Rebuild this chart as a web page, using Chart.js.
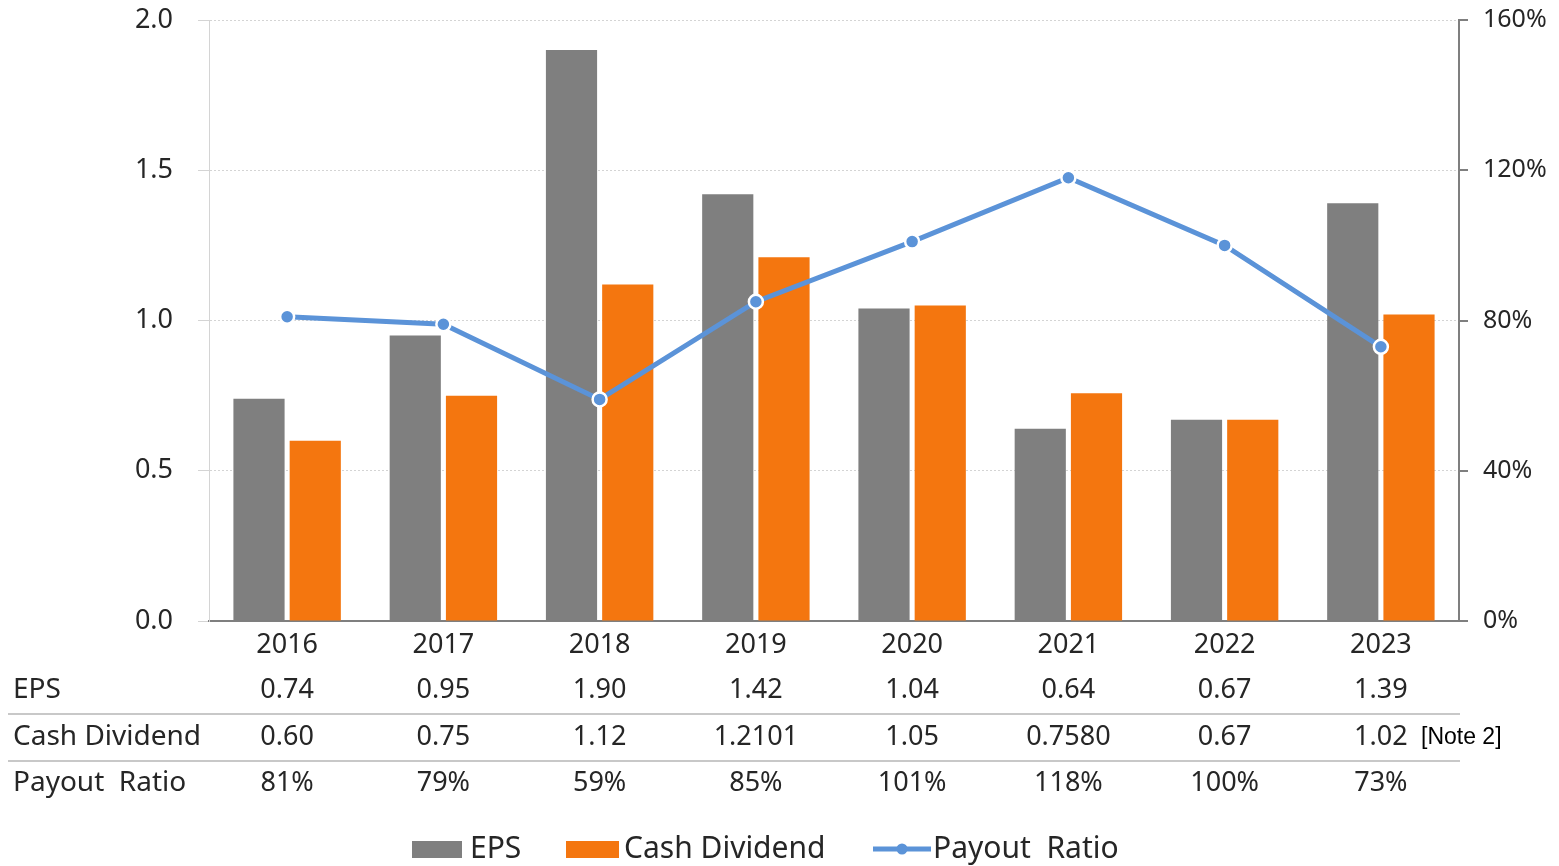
<!DOCTYPE html>
<html>
<head>
<meta charset="utf-8">
<title>EPS and Cash Dividend</title>
<script src="https://cdn.jsdelivr.net/npm/chart.js@4"></script>
<style>
    html, body { margin: 0; padding: 0; background: #fff; }
    #chart { display: block; }
</style>
</head>
<body>
<canvas id="chart" width="1559" height="866"></canvas>
<script>
// Yearly figures
const years = ['2016', '2017', '2018', '2019', '2020', '2021', '2022', '2023'];
const eps = [0.74, 0.95, 1.90, 1.42, 1.04, 0.64, 0.67, 1.39];
const cashDividend = [0.60, 0.75, 1.12, 1.2101, 1.05, 0.7580, 0.67, 1.02];
const payoutRatio = [81, 79, 59, 85, 101, 118, 100, 73];

// Table text as published
const epsText = ['0.74', '0.95', '1.90', '1.42', '1.04', '0.64', '0.67', '1.39'];
const dividendText = ['0.60', '0.75', '1.12', '1.2101', '1.05', '0.7580', '0.67', '1.02'];
const payoutText = payoutRatio.map(v => v + '%');

const FONT = '"Noto Sans", "DejaVu Sans", sans-serif';
const TEXT = '#262626';
const GRAY = '#7f7f7f';
const ORANGE = '#f4760f';
const BLUE = '#5b93d8';

// Data table + legend under the plot
const tablePlugin = {
    id: 'dataTable',
    afterDraw(chart) {
        const ctx = chart.ctx;
        const x = chart.scales.x;
        const rows = [
            { label: 'EPS', values: epsText, y: 690 },
            { label: 'Cash Dividend', values: dividendText, y: 737 },
            { label: 'Payout  Ratio', values: payoutText, y: 783 }
        ];
        ctx.save();

        // row separators
        ctx.strokeStyle = '#c8c8c8';
        ctx.lineWidth = 2;
        [714, 761].forEach(y => {
            ctx.beginPath();
            ctx.moveTo(8, y);
            ctx.lineTo(1460, y);
            ctx.stroke();
        });

        ctx.fillStyle = TEXT;
        ctx.textBaseline = 'middle';
        rows.forEach(r => {
            ctx.font = '28px ' + FONT;
            ctx.textAlign = 'left';
            ctx.fillText(r.label, 13, r.y);
            ctx.font = '27px ' + FONT;
            ctx.textAlign = 'center';
            r.values.forEach((v, i) => ctx.fillText(v, x.getPixelForValue(i), r.y));
        });

        ctx.font = '23px "Liberation Sans", Arial, sans-serif';
        ctx.fillStyle = '#000';
        ctx.textAlign = 'left';
        ctx.fillText('[Note 2]', 1421, 738);

        // legend
        const ly = 849;
        ctx.font = '30px ' + FONT;
        ctx.fillStyle = GRAY;
        ctx.fillRect(412, ly - 8, 50, 17);
        ctx.fillStyle = ORANGE;
        ctx.fillRect(566, ly - 8, 53, 17);
        ctx.strokeStyle = BLUE;
        ctx.lineWidth = 5;
        ctx.beginPath();
        ctx.moveTo(873, ly);
        ctx.lineTo(931, ly);
        ctx.stroke();
        ctx.fillStyle = BLUE;
        ctx.beginPath();
        ctx.arc(902, ly, 5.5, 0, Math.PI * 2);
        ctx.fill();

        ctx.fillStyle = TEXT;
        ctx.fillText('EPS', 470, ly);
        ctx.fillText('Cash Dividend', 624, ly);
        ctx.fillText('Payout  Ratio', 933, ly);
        ctx.restore();
    }
};

// fixed axis box, no extra room for the end labels
function fixWidth(w) {
    return scale => {
        scale.width = w;
        scale.paddingTop = 0;
        scale.paddingBottom = 0;
    };
}

new Chart(document.getElementById('chart'), {
    type: 'bar',
    data: {
        labels: years,
        datasets: [
            {
                type: 'line',
                label: 'Payout  Ratio',
                data: payoutRatio,
                yAxisID: 'y2',
                borderColor: BLUE,
                borderWidth: 5,
                pointRadius: 7,
                pointBackgroundColor: BLUE,
                pointBorderColor: '#fff',
                pointBorderWidth: 2.5,
                tension: 0,
                order: 0
            },
            {
                label: 'EPS',
                data: eps,
                backgroundColor: GRAY,
                yAxisID: 'y',
                order: 1
            },
            {
                label: 'Cash Dividend',
                data: cashDividend,
                backgroundColor: ORANGE,
                yAxisID: 'y',
                order: 1
            }
        ]
    },
    options: {
        responsive: false,
        animation: false,
        categoryPercentage: 0.72,
        barPercentage: 0.91,
        layout: { padding: { top: 20, left: 0, right: 0, bottom: 0 } },
        plugins: {
            legend: { display: false },
            tooltip: { enabled: false }
        },
        scales: {
            x: {
                grid: { display: false, drawTicks: false },
                border: { display: true, color: GRAY, width: 2 },
                ticks: { color: TEXT, font: { family: FONT, size: 27 }, padding: 8 },
                afterFit(scale) { scale.height = 245; }
            },
            y: {
                position: 'left',
                min: 0,
                max: 2,
                ticks: {
                    stepSize: 0.5,
                    color: TEXT,
                    font: { family: FONT, size: 27 },
                    padding: 25,
                    callback: v => v.toFixed(1)
                },
                grid: { color: '#d4d4d4', lineWidth: 1, tickLength: 11 },
                border: { color: '#d4d4d4', dash: [2, 2] },
                afterFit: fixWidth(209)
            },
            y2: {
                position: 'right',
                min: 0,
                max: 160,
                ticks: {
                    stepSize: 40,
                    color: TEXT,
                    font: { family: FONT, size: 25 },
                    padding: 15,
                    callback: v => v + '%'
                },
                grid: { drawOnChartArea: false, color: GRAY, lineWidth: 2, tickLength: 9 },
                border: { color: GRAY, width: 2 },
                afterFit: fixWidth(100)
            }
        }
    },
    plugins: [tablePlugin]
});
</script>
</body>
</html>
